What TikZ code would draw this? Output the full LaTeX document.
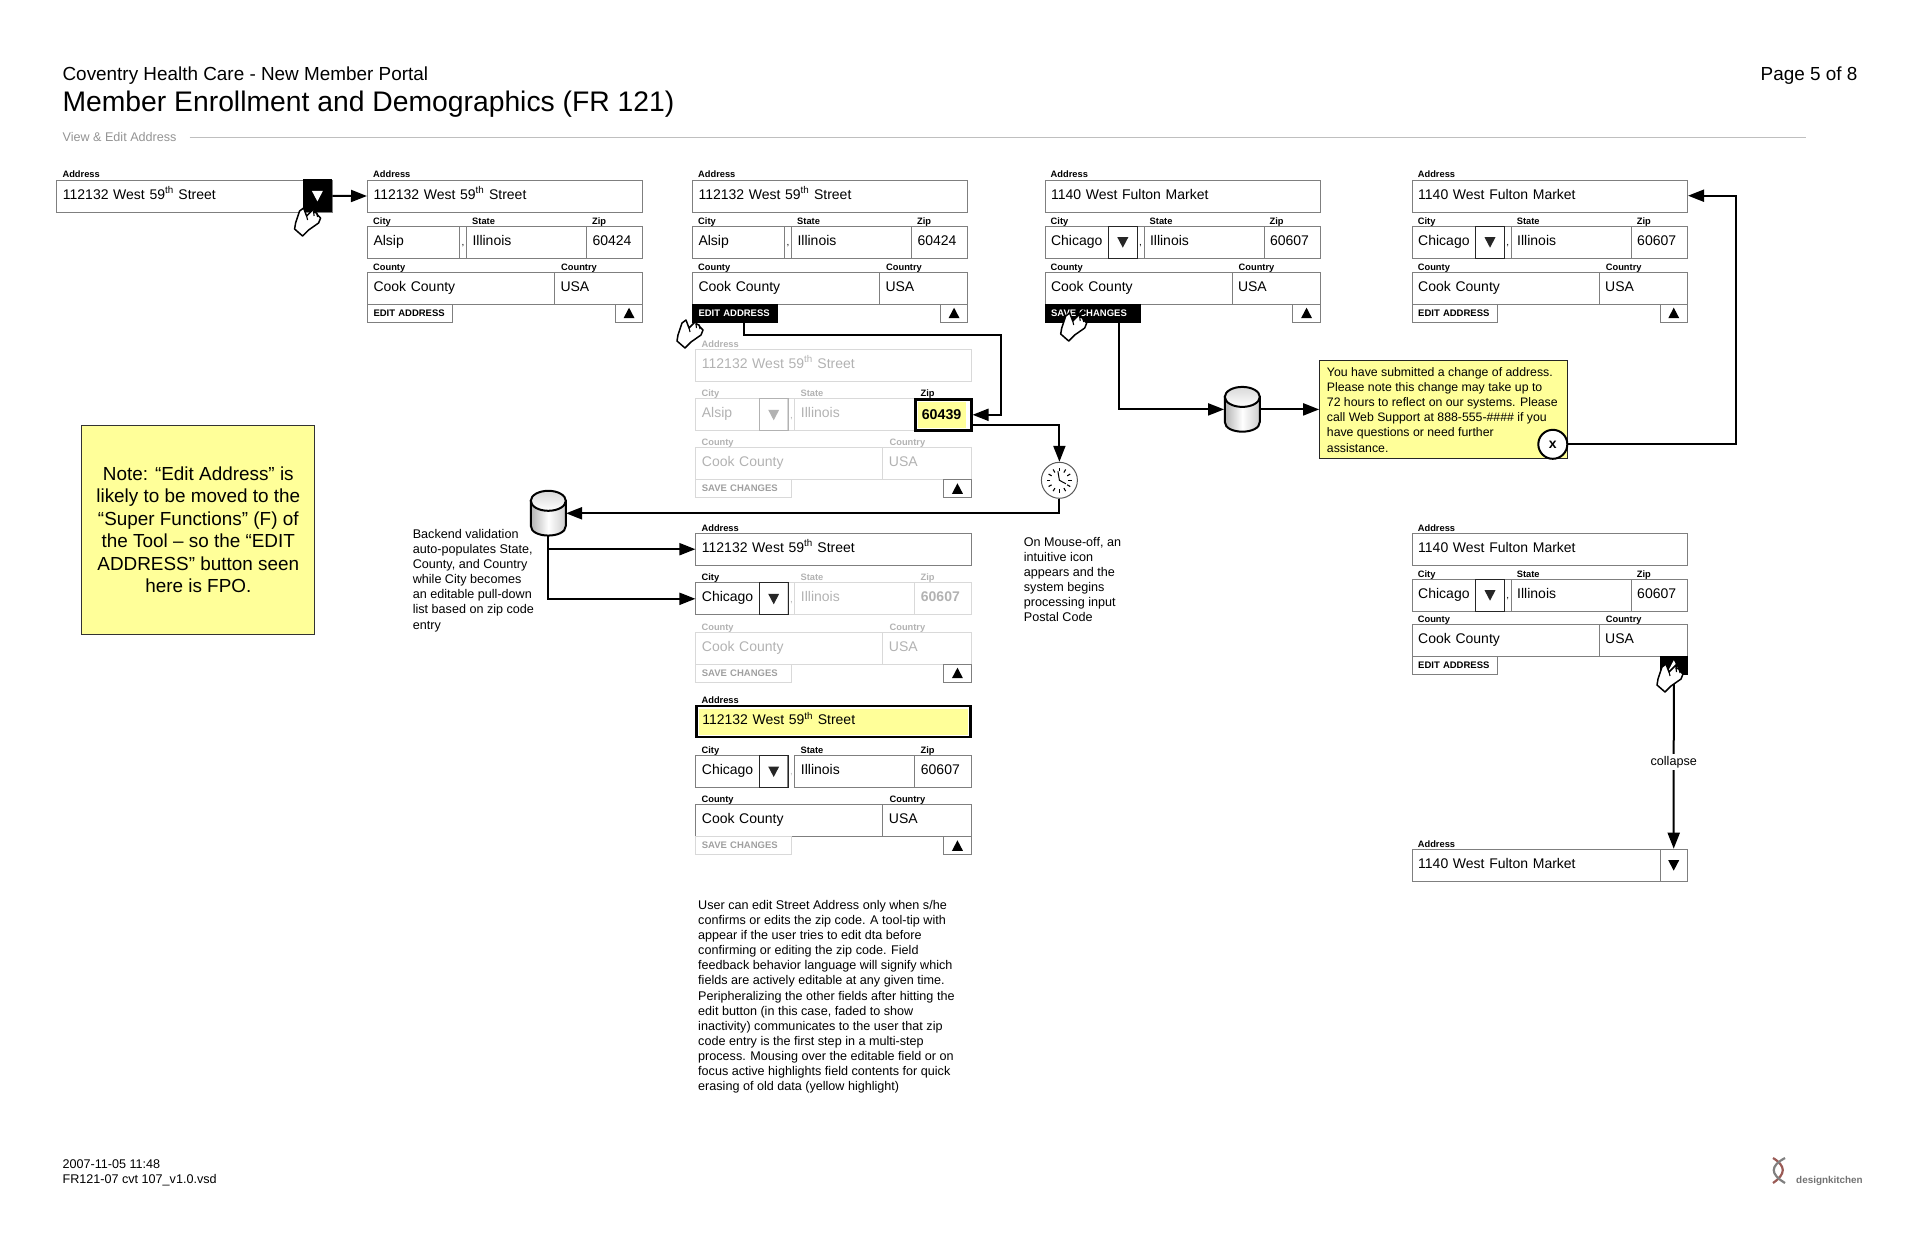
\documentclass[tikz,border=0pt]{standalone}
\usepackage{fontspec}
\setmainfont{Liberation Sans}
\usepackage{tikz}
\usetikzlibrary{arrows.meta}
\definecolor{noteyl}{HTML}{FFFF99}
\definecolor{fgray}{HTML}{7F7F7F}
\definecolor{dnared}{HTML}{9A5A55}
\tikzset{
    live/.style={draw=fgray, text=black},
    faded/.style={draw=gray!30, text=gray!60},
    ga/.style=live, gc/.style=live, gp/.style=live, gz/.style=live, go/.style=live,
    editbtn/.style={text width=73.4pt},
    savebtn/.style={text width=83.5pt},
    gb/.style={live, editbtn},
    field/.style={anchor=north west, minimum height=32pt, inner xsep=6pt, inner ysep=0pt, align=left,
        text height=10pt, text depth=4pt, line width=1pt, font=\fontsize{14}{17}\selectfont},
    lbl/.style={draw=none, anchor=base west, inner sep=0pt, font=\bfseries\fontsize{9.3}{11}\selectfont},
    btn/.style={anchor=north west, minimum height=18pt, inner xsep=6pt, inner ysep=0pt, align=left,
        text height=8.5pt, text depth=2.5pt, line width=1pt, font=\bfseries\fontsize{9.5}{11}\selectfont},
    sepbox/.style={anchor=north west, minimum width=7pt, minimum height=32pt, inner sep=0pt,
        line width=1pt, font=\fontsize{10}{12}\selectfont},
    upbox/.style={anchor=north west, draw=fgray, line width=1pt, minimum width=27.5pt, minimum height=18pt, inner sep=0pt},
    dropbox/.style={anchor=east, line width=.9pt, minimum width=28.5pt, minimum height=32pt, inner sep=0pt},
    flow/.style={line width=2pt, -{Triangle[length=16pt,width=12pt]}},
    small/.style={anchor=north west, inner sep=0pt, align=left, font=\fontsize{12.6}{15.1}\selectfont},
    hand/.pic={
        \draw[fill=white, line width=1.5pt, line join=round]
            (0,0)--(-11,11)--(-14,3)--(-18,6)--(-22,18)--(-23,24)--(-15,31)--(-9,25)--(1,18)--(3,13)
            --(0,10)--(-1,8)--(-4,7)--cycle;
        \draw[line width=1.1pt] (-11,11)--(-10,15) (-4,7)--(-3.5,11) (-1,8)--(0,12);
    },
    tridn/.pic={\fill (-5.5,-5)--(5.5,-5)--(0,5.5)--cycle;},
    triup/.pic={\fill (-5.5,5)--(5.5,5)--(0,-5.5)--cycle;},
    dbase/.pic={
        \path[left color=gray!60, right color=gray!40, middle color=white, draw=black, line width=2pt]
            (-17.5,-12.5)--(-17.5,12.5) .. controls (-17.5,25.5) and (17.5,25.5) .. (17.5,12.5)--(17.5,-12.5)--cycle;
        \path[top color=gray!30, bottom color=white, draw=black, line width=2pt] (0,-12.5) ellipse (17.5 and 10);
    },
    dial/.pic={
        \foreach \a in {0,30,...,330}
            \draw[line width=1.1pt] (\a:9)--(\a:12.5);
        \draw[line width=1pt] (-1.5,-9)--(0,0)--(6.5,3.5);
    }
}
\newcommand{\form}[9]{
    \node[ga,lbl] (#1la) at (#2+6,#3-1.6) {Address};
    \node[ga,field,text width=263.3pt] (#1a) at (#2,#3) {#4};
    \node[gc,lbl] (#1lc) at (#2+6,#3+#8-1.6) {City};
    \node[gc,field,text width=80pt] (#1c) at (#2,#3+#8) {#5};
    \node[gp,sepbox] (#1p) at (#2+92,#3+#8) {\raisebox{-8pt}{,}};
    \node[go,lbl] (#1ls) at (#2+105,#3+#8-1.6) {State};
    \node[go,field,text width=108pt] (#1s) at (#2+99,#3+#8) {Illinois};
    \node[gz,lbl] (#1lz) at (#2+225,#3+#8-1.6) {Zip};
    \node[gz,field,text width=44.3pt] (#1z) at (#2+219,#3+#8) {#6};
    \node[go,lbl] (#1ln) at (#2+6,#3+#9-1.6) {County};
    \node[go,field,text width=175pt] (#1n) at (#2,#3+#9) {Cook County};
    \node[go,lbl] (#1lu) at (#2+194,#3+#9-1.6) {Country};
    \node[go,field,text width=76.3pt] (#1u) at (#2+187,#3+#9) {USA};
    \node[gb,btn] (#1b) at (#2,#3+#9+32) {#7};
    \node[upbox] (#1t) at (#2+247.8,#3+#9+32) {};
    \pic at (#1t) {triup};
}
\newcommand{\drop}[2][black!85]{
    \node[dropbox,draw=#1] (#2d) at (#2c.east) {};
    \pic[fill=#1] at (#2d) {tridn};
}
\begin{document}
\begin{tikzpicture}[x=1pt,y=-1pt]
    \useasboundingbox (0,0) rectangle (1920,1242);

    \node[anchor=base west, inner sep=0pt, font=\fontsize{18.9}{22}\selectfont] (org) at (62.4,80) {Coventry Health Care - New Member Portal};
    \node[anchor=base west, inner sep=0pt, font=\fontsize{28.3}{32}\selectfont] (ttl) at (62.4,111) {Member Enrollment and Demographics (FR 121)};
    \node[anchor=base east, inner sep=0pt, font=\fontsize{18.9}{22}\selectfont] (pg) at (1857.6,80) {Page 5 of 8};
    \node[anchor=base west, inner sep=0pt, text=gray!85, font=\fontsize{12.6}{15}\selectfont] (view) at (62.4,141.5) {View \& Edit Address};
    \coordinate (rr) at (1806,137);
    \draw[gray!50, line width=1pt] (view.east |- rr) ++(13,0) -- (rr);

    \node[ga,lbl] (b1l) at (62.4,177.9) {Address};
    \node[ga,field,text width=263.6pt] (b1a) at (56.4,179.5) {112132 West 59\textsuperscript{th} Street};
    \node[anchor=north west, fill=black, minimum width=29.6pt, minimum height=33pt, inner sep=0pt] (b1k) at (302.4,179.2) {};
    \pic[fill=white] at (b1k) {tridn};

    \form{f1}{367}{179.5}{112132 West 59\textsuperscript{th} Street}{Alsip}{60424}{EDIT ADDRESS}{46.2}{92.2}

    \begin{scope}[gb/.style={editbtn, fill=black, text=white, draw=black}]
        \form{f2}{692}{179.5}{112132 West 59\textsuperscript{th} Street}{Alsip}{60424}{EDIT ADDRESS}{46.2}{92.2}
    \end{scope}

    \begin{scope}[gb/.style={savebtn, fill=black, text=white, draw=black}]
        \form{f6}{1044.5}{179.5}{1140 West Fulton Market}{Chicago}{60607}{SAVE CHANGES}{46.2}{92.2}
    \end{scope}
    \drop{f6}

    \form{f7}{1411.7}{179.5}{1140 West Fulton Market}{Chicago}{60607}{EDIT ADDRESS}{46.2}{92.2}
    \drop{f7}

    \begin{scope}[ga/.style=faded, gc/.style=faded, gp/.style=faded, go/.style=faded, gb/.style={faded, savebtn, text=gray!75}]
        \form{f3}{695.4}{348.7}{112132 West 59\textsuperscript{th} Street}{Alsip}{}{SAVE CHANGES}{49.6}{98.6}
        \drop[gray!60]{f3}
    \end{scope}
    \node[draw=black, fill=white, line width=3pt, minimum width=56pt, minimum height=31.5pt, inner sep=0pt] (f3h) at (f3z) {};
    \node[fill=noteyl, minimum width=48pt, minimum height=26pt, inner sep=0pt, font=\bfseries\fontsize{14.2}{17}\selectfont] (f3y) at ([xshift=-1.5pt]f3h.center) {60439};

    \begin{scope}[gp/.style=faded, gz/.style=faded, go/.style=faded, gb/.style={faded, savebtn, text=gray!75}]
        \form{f4}{695.4}{532.7}{112132 West 59\textsuperscript{th} Street}{Chicago}{\textbf{60607}}{SAVE CHANGES}{49.6}{99}
    \end{scope}
    \drop{f4}

    \begin{scope}[gp/.style={draw=none, text=gray!50}, gb/.style={faded, savebtn, text=gray!75}]
        \form{f5}{695.4}{705}{}{Chicago}{60607}{SAVE CHANGES}{50}{99.3}
    \end{scope}
    \drop{f5}
    \node[draw=black, fill=white, line width=2.6pt, minimum width=274pt, minimum height=31pt, inner sep=0pt] (f5h) at (f5a) {};
    \node[field, anchor=center, fill=noteyl, text width=262.6pt, inner xsep=3pt, minimum height=26pt] (f5y) at (f5h) {112132 West 59\textsuperscript{th} Street};

    \form{f8}{1411.7}{532.7}{1140 West Fulton Market}{Chicago}{60607}{EDIT ADDRESS}{46}{91.6}
    \drop{f8}
    \node[upbox, anchor=center, fill=black, draw=black] (f8k) at (f8t) {};
    \pic[fill=white] at (f8k) {triup};

    \node[ga,lbl] (b2l) at (1417.7,847.1) {Address};
    \node[ga,field,text width=263.3pt] (b2a) at (1411.7,848.7) {1140 West Fulton Market};
    \node[dropbox, draw=fgray, anchor=north west, minimum width=27.5pt] (b2d) at (1659.5,848.7) {};
    \pic[fill=black] at (b2d) {tridn};

    \node[draw=black!80, fill=noteyl, line width=1pt, minimum width=232.7pt, minimum height=209pt, inner sep=0pt, align=center,
        font=\fontsize{18.9}{22.5}\selectfont] (fpo) at (198.3,529.5)
        {Note: “Edit Address” is\\likely to be moved to the\\“Super Functions” (F) of\\the Tool – so the “EDIT\\ADDRESS” button seen\\here is FPO.};

    \node[small] (bk) at (412.6,529.1) {Backend validation\\auto-populates State,\\County, and Country\\while City becomes\\an editable pull-down\\list based on zip code\\entry};
    \node[small] (mo) at (1023.7,537.1) {On Mouse-off, an\\intuitive icon\\appears and the\\system begins\\processing input\\Postal Code};
    \node[small] (ed) at (698,900.1) {User can edit Street Address only when s/he\\confirms or edits the zip code. A tool-tip with\\appear if the user tries to edit dta before\\confirming or editing the zip code. Field\\feedback behavior language will signify which\\fields are actively editable at any given time.\\Peripheralizing the other fields after hitting the\\edit button (in this case, faded to show\\inactivity) communicates to the user that zip\\code entry is the first step in a multi-step\\process. Mousing over the editable field or on\\focus active highlights field contents for quick\\erasing of old data (yellow highlight)};

    \node[draw=black!85, fill=noteyl, line width=1pt, minimum width=247.7pt, minimum height=98.7pt, inner sep=0pt] (msg) at (1443.5,409.4) {};
    \node[small, font=\fontsize{12.3}{15.07}\selectfont] (msgt) at (1326.7,367.6)
        {You have submitted a change of address.\\Please note this change may take up to\\72 hours to reflect on our systems. Please\\call Web Support at 888-555-\#\#\#\# if you\\have questions or need further\\assistance.};
    \node[circle, draw=black, fill=white, line width=2pt, minimum size=29pt, inner sep=0pt, font=\bfseries\fontsize{14}{16}\selectfont] (cls) at (1552.8,444.3) {x};

    \node[circle, draw=gray!70!black, fill=white, line width=1pt, minimum size=36pt, inner sep=0pt] (clk) at (1059.4,480.3) {};
    \pic at (clk) {dial};

    \node[minimum width=35pt, minimum height=45pt, inner sep=0pt] (db1) at (548.3,513.3) {};
    \pic at (db1) {dbase};
    \node[minimum width=36pt, minimum height=45pt, inner sep=0pt] (db2) at (1242.3,409.4) {};
    \pic at (db2) {dbase};

    \coordinate (c1) at (1001.3,335);
    \coordinate (c3) at (1736.4,195.7);

    \draw[flow] (b1k.east)--(f1a.west);
    \draw[flow] ([xshift=9pt]f2b.south) |- (c1) |- (f3h.east);
    \draw[flow] ([yshift=-10pt]f3h.east) -| (clk.north);
    \draw[flow] (clk.south) |- (db1.east);
    \draw[flow] (db1.south) |- (f4a.west);
    \draw[flow] (db1.south) |- (f4c.west);
    \draw[flow] ([xshift=26pt]f6b.south) |- (db2.west);
    \draw[flow] (db2.east)--(msg.west);
    \draw[flow] (cls.east) -| (c3) -- (f7a.east |- c3);
    \draw[flow] (f8k.south) -- node[fill=white, inner xsep=0pt, inner ysep=2pt, font=\fontsize{12.6}{15}\selectfont] (cp) {collapse} (b2d.north);

    \pic at (317.6,205) {hand};
    \pic at (700,317) {hand};
    \pic at (1083.7,310) {hand};
    \pic at (1680,661) {hand};

    \node[small, font=\fontsize{12.6}{15.2}\selectfont] (ft) at (62.4,1159.7) {2007-11-05 11:48\\FR121-07 cvt 107\_v1.0.vsd};

    \draw[dnared, line width=2.2pt] (1773,1158) .. controls (1786,1166) and (1786,1174) .. (1773,1183);
    \draw[gray, line width=2.2pt] (1785,1158) .. controls (1770,1166) and (1770,1174) .. (1785,1183);
    \node[anchor=base west, inner sep=0pt, text=gray!90!black, font=\bfseries\fontsize{9.9}{11}\selectfont] (dk) at (1796,1183) {designkitchen};
\end{tikzpicture}
\end{document}
